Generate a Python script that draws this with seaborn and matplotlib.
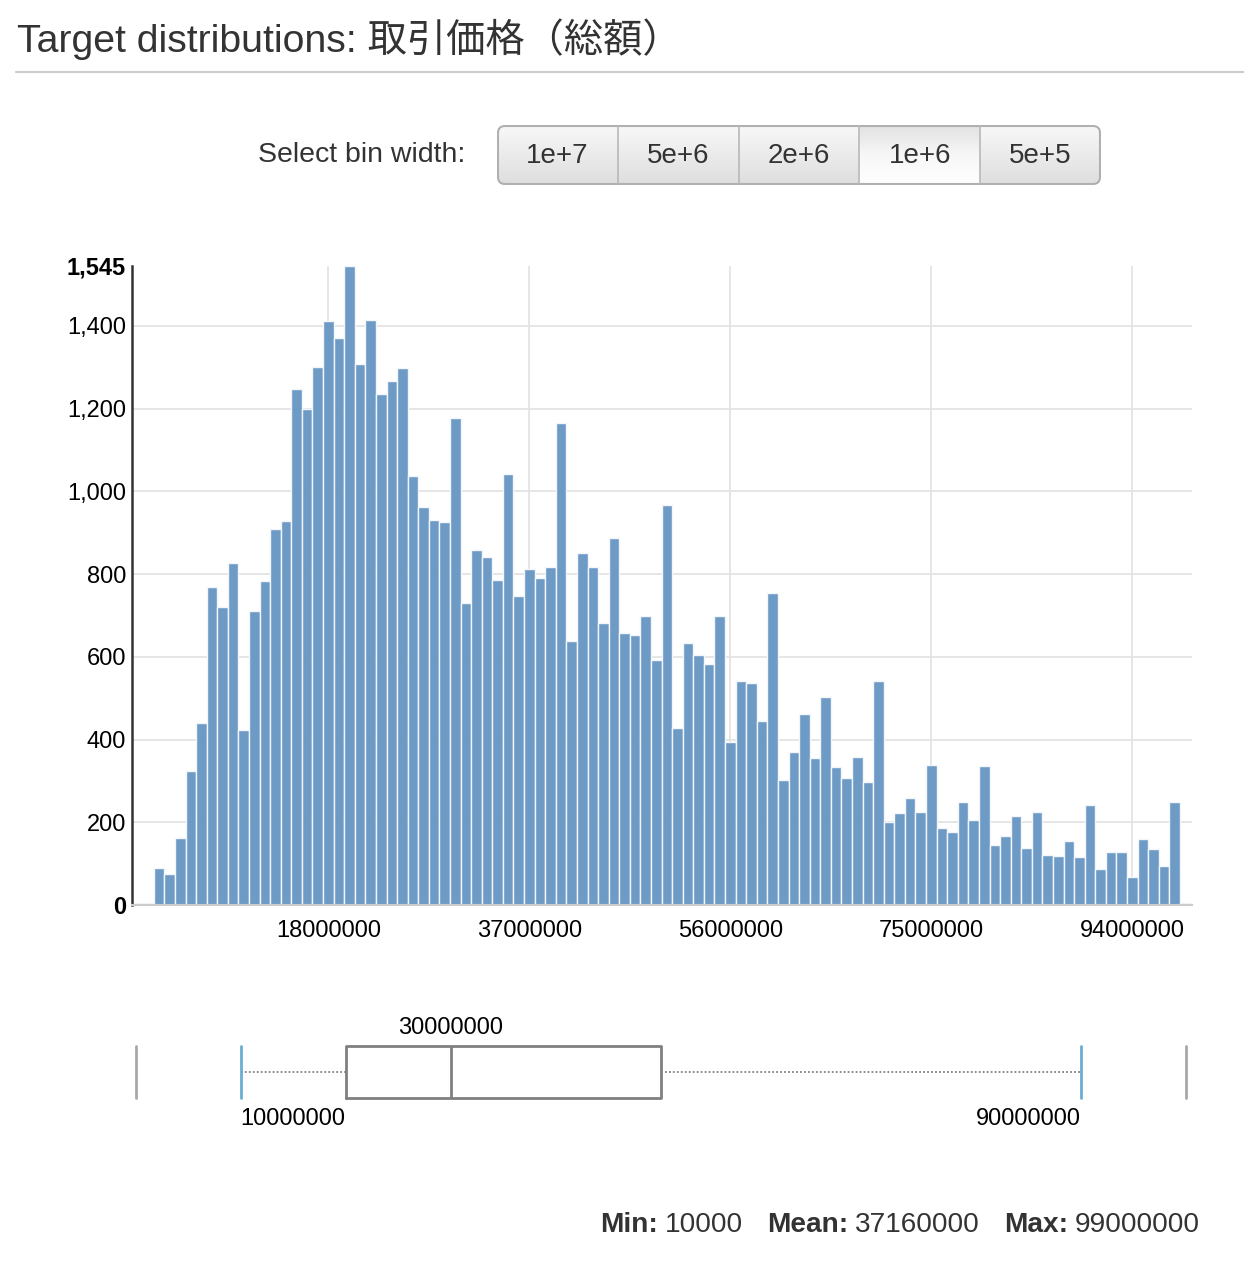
import numpy as np
import pandas as pd
import matplotlib
matplotlib.use("Agg")
import matplotlib.pyplot as plt
from matplotlib.patches import FancyBboxPatch
from matplotlib.colors import LinearSegmentedColormap
import seaborn as sns

# ---- data ----
title_text = "Target distributions: 取引価格（総額）"
bin_widths = ["1e+7", "5e+6", "2e+6", "1e+6", "5e+5"]
active_width = "1e+6"
bin_width = 1000000

counts = [5, 5, 89, 76, 163, 325, 439, 770, 721, 827,
          422, 710, 784, 908, 929, 1248, 1199, 1300, 1413, 1370,
          1545, 1308, 1414, 1235, 1266, 1298, 1037, 963, 932, 926,
          1177, 730, 858, 842, 785, 1042, 747, 812, 790, 817,
          1166, 639, 851, 817, 683, 888, 657, 654, 699, 593,
          968, 429, 634, 604, 582, 699, 395, 542, 536, 446,
          755, 302, 370, 461, 355, 504, 334, 306, 359, 298,
          541, 201, 222, 259, 224, 339, 186, 176, 249, 205,
          337, 145, 166, 215, 138, 225, 122, 118, 155, 117,
          241, 88, 129, 129, 68, 159, 136, 94, 249, 4]
bin_centers = [i * bin_width for i in range(len(counts))]
bin_edges = [c - bin_width / 2 for c in bin_centers] + [bin_centers[-1] + bin_width / 2]

x_ticks = [18000000, 37000000, 56000000, 75000000, 94000000]
y_ticks = [0, 200, 400, 600, 800, 1000, 1200, 1400, 1545]

box_stats = {"whislo": 10000000, "q1": 20000000, "med": 30000000,
             "q3": 50000000, "whishi": 90000000}
box_range = [0, 100000000]

min_value = 10000
mean_value = 37160000
max_value = 99000000

# ---- style ----
sns.set_style("white")
plt.rcParams["font.family"] = ["Liberation Sans", "Noto Sans CJK JP", "DejaVu Sans"]

W, H = 1244, 1272
fig = plt.figure(figsize=(W / 100, H / 100), dpi=100)


def frect(x0, y0, x1, y1):
    # pixel box (top-left origin) -> figure fraction rect
    return [x0 / W, 1 - y1 / H, (x1 - x0) / W, (y1 - y0) / H]


# title and rule
fig.text(17 / W, 1 - 39 / H, title_text, fontsize=28.3, color="#333333",
         ha="left", va="center")
fig.add_artist(plt.Line2D([16 / W, 1.0], [1 - 72 / H, 1 - 72 / H],
                          color="#cccccc", lw=1.5))

# bin width selector
fig.text(465 / W, 1 - 155 / H, "Select bin width:", fontsize=20.5,
         color="#333333", ha="right", va="center")
bx0, by0, bw, bh = 497, 125, 604, 60
axb = fig.add_axes(frect(bx0, by0, bx0 + bw, by0 + bh))
axb.set_xlim(0, bw)
axb.set_ylim(bh, 0)
axb.axis("off")
grad = np.linspace(0, 1, 64)[:, None]
cm_norm = LinearSegmentedColormap.from_list("btn", ["#f8f8f8", "#dedede"])
cm_act = LinearSegmentedColormap.from_list("act", ["#e2e2e2", "#f7f7f7", "#ffffff"])
clip = FancyBboxPatch((1, 1), bw - 2, bh - 2,
                      boxstyle="round,pad=0,rounding_size=7",
                      transform=axb.transData, facecolor="none")
im = axb.imshow(grad, cmap=cm_norm, extent=(0, bw, bh, 0), aspect="auto")
im.set_clip_path(clip)
step = bw / len(bin_widths)
for i, lab in enumerate(bin_widths):
    if lab == active_width:
        ima = axb.imshow(grad, cmap=cm_act, extent=(i * step, (i + 1) * step, bh, 0),
                         aspect="auto")
        ima.set_clip_path(clip)
    if i > 0:
        axb.plot([i * step, i * step], [1, bh - 1], color="#b8b8b8", lw=1.2)
    axb.text((i + 0.5) * step, bh / 2 + 1, lab, fontsize=20, color="#333333",
             ha="center", va="center")
axb.set_xlim(0, bw)
axb.set_ylim(bh, 0)
axb.add_patch(FancyBboxPatch((1, 1), bw - 2, bh - 2,
                             boxstyle="round,pad=0,rounding_size=7",
                             facecolor="none", edgecolor="#b0b0b0", lw=1.5))

# histogram
ax = fig.add_axes(frect(132.3, 266, 1191.7, 905))
ax.set_axisbelow(True)
sns.histplot(x=bin_centers, weights=counts, bins=bin_edges, ax=ax,
             color="#6897c3", alpha=0.96, edgecolor="#f2f6fa", linewidth=1.0)
ax.set_xlim(-529000, 99610000)
ax.set_ylim(0, 1545)
ax.set_xlabel("")
ax.set_ylabel("")
ax.set_xticks(x_ticks)
ax.set_xticklabels([str(v) for v in x_ticks])
ax.set_yticks(y_ticks)
ax.set_yticklabels([f"{v:,}" for v in y_ticks])
ax.tick_params(axis="both", length=0, labelsize=17, colors="black")
ax.tick_params(axis="y", pad=4.5)
ax.tick_params(axis="x", pad=10.5)
for t in ax.get_yticklabels():
    if t.get_text() in ("0", "1,545"):
        t.set_fontweight("bold")
ax.grid(True, color="#e4e4e4", lw=1.3)
ax.get_ygridlines()[-1].set_visible(False)
ax.get_ygridlines()[0].set_visible(False)
for s in ["top", "right"]:
    ax.spines[s].set_visible(False)
ax.spines["left"].set_color("#333333")
ax.spines["left"].set_linewidth(1.8)
ax.spines["bottom"].set_color("#cccccc")
ax.spines["bottom"].set_linewidth(1.5)

# box plot
axx = fig.add_axes(frect(135.7, 1045.7, 1185.7, 1097.7))
axx.set_xlim(box_range)
axx.set_ylim(-0.5, 0.5)
axx.axis("off")
stats = dict(box_stats)
stats["fliers"] = []
axx.bxp([stats], positions=[0], widths=[1.0], vert=False, showfliers=False,
        boxprops=dict(color="#808080", lw=2),
        medianprops=dict(color="#808080", lw=2),
        whiskerprops=dict(color="#808080", lw=1.3, linestyle=(0, (1, 1.2))),
        capprops=dict(color="#6aaed6", lw=2), capwidths=[1.0])
for child in axx.get_children():
    try:
        child.set_clip_on(False)
    except Exception:
        pass
for v in box_range:
    axx.plot([v, v], [-0.5, 0.5], color="#a8a8a8", lw=2, clip_on=False)
axx.text(box_stats["med"], 0.5 + 18 / 52, str(box_stats["med"]), fontsize=17,
         ha="center", va="center", color="black")
axx.text(box_stats["whislo"], -0.5 - 21 / 52, str(box_stats["whislo"]), fontsize=17,
         ha="left", va="center", color="black")
axx.text(box_stats["whishi"], -0.5 - 21 / 52, str(box_stats["whishi"]), fontsize=17,
         ha="right", va="center", color="black")

# summary line, laid out right to left
renderer = fig.canvas.get_renderer()
pieces = [("Min:", "bold"), (str(min_value), "normal"),
          ("Mean:", "bold"), (str(mean_value), "normal"),
          ("Max:", "bold"), (str(max_value), "normal")]
xr = 1200
yc = 1 - 1225 / H
for j, (txt, wt) in enumerate(reversed(pieces)):
    t = fig.text(xr / W, yc, txt, fontsize=20.2, fontweight=wt, color="#333333",
                 ha="right", va="center")
    wpx = t.get_window_extent(renderer).width
    gap = 7 if wt == "normal" else 24
    xr = xr - wpx - gap

fig.savefig("out.png", dpi=100)
